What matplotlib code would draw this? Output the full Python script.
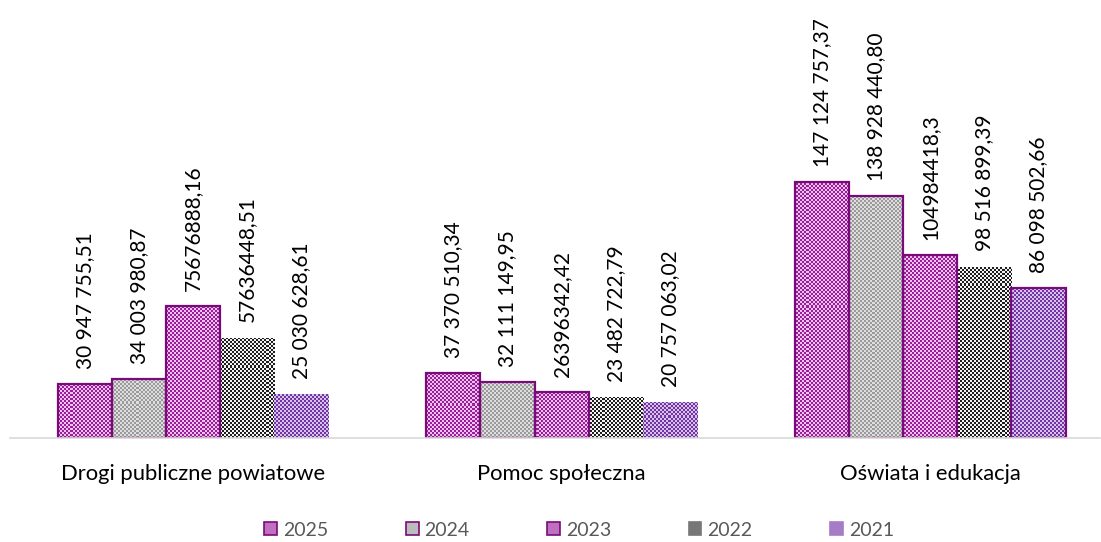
import numpy as np
import matplotlib.pyplot as plt
from matplotlib.colors import ListedColormap
from matplotlib.patches import Patch

plt.rcParams['font.family'] = ['Lato', 'DejaVu Sans']

# data
categories = ["Drogi publiczne powiatowe", "Pomoc społeczna", "Oświata i edukacja"]
years = ["2025", "2024", "2023", "2022", "2021"]
values = {
    "2025": [30947755.51, 37370510.34, 147124757.37],
    "2024": [34003980.87, 32111149.95, 138928440.80],
    "2023": [75676888.16, 26396342.42, 104984418.30],
    "2022": [57636448.51, 23482722.79, 98516899.39],
    "2021": [25030628.61, 20757063.02, 86098502.66],
}
labels = {
    "2025": ["30 947 755,51", "37 370 510,34", "147 124 757,37"],
    "2024": ["34 003 980,87", "32 111 149,95", "138 928 440,80"],
    "2023": ["75676888,16", "26396342,42", "104984418,3"],
    "2022": ["57636448,51", "23 482 722,79", "98 516 899,39"],
    "2021": ["25 030 628,61", "20 757 063,02", "86 098 502,66"],
}

# checker colours (dark, light) and outline per series
checker = {
    "2025": ("#9c1c9c", "#e9c3e9"),
    "2024": ("#9a9a9a", "#dedede"),
    "2023": ("#9c1c9c", "#e9c3e9"),
    "2022": ("#1e1e1e", "#f4f4f4"),
    "2021": ("#7434a6", "#d6c2e6"),
}
mean_col = {"2025": "#c070c0", "2024": "#bcbcbc", "2023": "#c070c0",
            "2022": "#777777", "2021": "#a77cc6"}
edge_col = "#7a0a7a"
outlined = {
    "2025": [True, True, True],
    "2024": [True, True, True],
    "2023": [True, True, True],
    "2022": [False, False, False],
    "2021": [False, False, True],
}

W, H = 1101, 542
fig = plt.figure(figsize=(W / 100, H / 100), dpi=100)
ax_w, ax_h = 1090, 438
ax = fig.add_axes([10 / W, (H - ax_h) / H, ax_w / W, ax_h / H])

ymax = 251.7e6
xlim = (-0.497, 2.461)
ax.set_xlim(*xlim)
ax.set_ylim(0, ymax)

x = np.arange(len(categories))
width = 0.147

# checkerboard at screen resolution, 2px cells
rows = np.arange(ax_h) // 2
cols = np.arange(ax_w) // 2
board = (np.add.outer(rows, cols) % 2).astype(float)

for i, yr in enumerate(years):
    pos = x + (i - 2) * width
    bars = ax.bar(pos, values[yr], width, facecolor="none", edgecolor="none", zorder=2)
    cmap = ListedColormap([checker[yr][1], checker[yr][0]])
    for j, b in enumerate(bars):
        im = ax.imshow(board, cmap=cmap, extent=(xlim[0], xlim[1], 0, ymax),
                       origin="lower", aspect="auto", interpolation="nearest",
                       resample=False, zorder=1)
        im.set_clip_path(b)
        if outlined[yr][j]:
            b.set_edgecolor(edge_col)
            b.set_linewidth(1.6)
        ax.annotate(labels[yr][j], (pos[j], values[yr][j]), xytext=(0, 11),
                    textcoords="offset points", rotation=90, ha="center", va="bottom",
                    fontsize=15, color="#000000")

ax.set_xticks(x)
ax.set_xticklabels(categories, fontsize=15.8)
ax.tick_params(axis="x", length=0, pad=19)
ax.set_yticks([])
for s in ["top", "left", "right"]:
    ax.spines[s].set_visible(False)
ax.spines["bottom"].set_color("#d9d9d9")
ax.spines["bottom"].set_linewidth(1.2)

handles = [Patch(facecolor=mean_col[yr],
                 edgecolor=edge_col if yr in ("2025", "2024", "2023") else mean_col[yr],
                 linewidth=1.2) for yr in years]
leg = fig.legend(handles, years, loc="center", bbox_to_anchor=(0.526, (H - 530) / H), ncol=5,
                 frameon=False, fontsize=14, handlelength=0.65, handleheight=0.65,
                 handletextpad=0.3, columnspacing=4.0)
for t in leg.get_texts():
    t.set_color("#595959")

fig.savefig("out.png", dpi=100)
